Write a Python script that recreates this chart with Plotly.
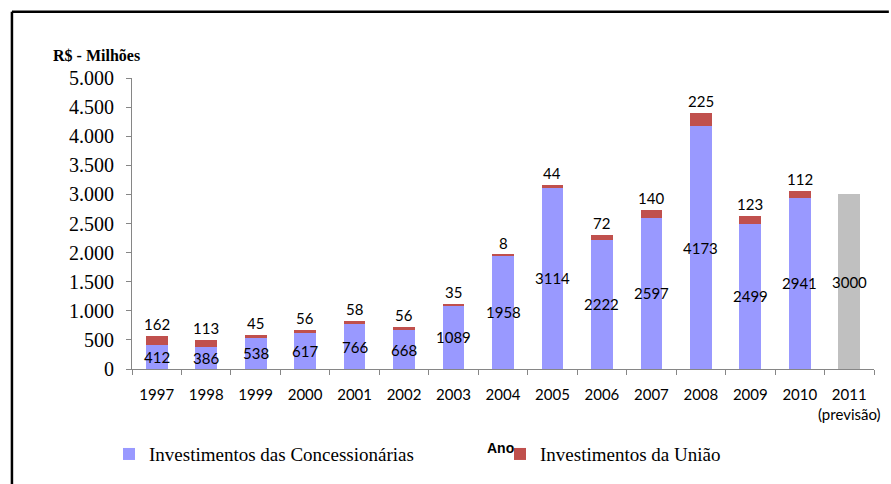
import plotly.graph_objects as go

anos = ["1997", "1998", "1999", "2000", "2001", "2002", "2003", "2004",
        "2005", "2006", "2007", "2008", "2009", "2010", "2011<br>(previsão)"]
concessionarias = [412, 386, 538, 617, 766, 668, 1089, 1958, 3114, 2222, 2597, 4173, 2499, 2941]
uniao = [162, 113, 45, 56, 58, 56, 35, 8, 44, 72, 140, 225, 123, 112]
previsao_2011 = [3000]
y_ticks = [0, 500, 1000, 1500, 2000, 2500, 3000, 3500, 4000, 4500, 5000]
y_tick_text = ["0", "500", "1.000", "1.500", "2.000", "2.500", "3.000", "3.500", "4.000", "4.500", "5.000"]

BLUE = "#9999FF"
RED = "#C0504D"
GRAY = "#C0C0C0"
AXIS = "#868686"
LABEL_FONT = dict(family="Lato", size=15, color="#000000")

fig = go.Figure()
fig.add_trace(go.Bar(x=anos[:-1], y=concessionarias, name="Investimentos das Concessionárias",
                     marker=dict(color=BLUE, line=dict(width=0))))
fig.add_trace(go.Bar(x=anos[:-1], y=uniao, name="Investimentos da União",
                     marker=dict(color=RED, line=dict(width=0))))
fig.add_trace(go.Bar(x=anos[-1:], y=previsao_2011, name="Previsão", showlegend=False,
                     marker=dict(color=GRAY, line=dict(width=0))))

annotations = []
for i, (c, u) in enumerate(zip(concessionarias, uniao)):
    annotations.append(dict(x=i, y=c / 2, text=str(c), showarrow=False, font=LABEL_FONT,
                            xref="x", yref="y"))
    annotations.append(dict(x=i, y=c + u, text=str(u), showarrow=False, font=LABEL_FONT,
                            xref="x", yref="y", yshift=12))
for j, v in enumerate(previsao_2011):
    annotations.append(dict(x=len(concessionarias) + j, y=v / 2, text=str(v), showarrow=False,
                            font=LABEL_FONT, xref="x", yref="y"))

annotations.append(dict(x=-0.1096, y=1.078, xref="paper", yref="paper", xanchor="left",
                        yanchor="middle", text="<b>R$ - Milhões</b>", showarrow=False,
                        font=dict(family="Liberation Serif", size=16, color="#000000")))
annotations.append(dict(x=0.4973, y=-0.272, xref="paper", yref="paper", xanchor="center",
                        yanchor="middle", text="<b>Ano</b>", showarrow=False,
                        font=dict(family="Liberation Sans", size=14, color="#000000")))

shapes = [
    dict(type="line", xref="paper", yref="paper", x0=-0.1618, x1=-0.1618, y0=1.2279, y1=-0.5,
         line=dict(color="#000000", width=2.5)),
    dict(type="line", xref="paper", yref="paper", x0=-0.1618, x1=1.02, y0=1.2279, y1=1.2279,
         line=dict(color="#000000", width=2.5)),
]

fig.update_layout(
    barmode="stack",
    bargap=0.56,
    width=891, height=484,
    margin=dict(l=132, r=11, t=78, b=112),
    paper_bgcolor="white", plot_bgcolor="white",
    showlegend=True,
    legend=dict(orientation="h", x=-0.012, y=-0.2925, xanchor="left", yanchor="middle",
                traceorder="normal",
                font=dict(family="Liberation Serif", size=19, color="#000000"),
                entrywidth=346, entrywidthmode="pixels", bgcolor="rgba(0,0,0,0)"),
    annotations=annotations,
    shapes=shapes,
    xaxis=dict(type="category", range=[-0.5, len(anos) - 0.5], showgrid=False, showline=True,
               linecolor=AXIS, linewidth=1,
               ticks="outside", tickson="boundaries", ticklen=5, tickcolor=AXIS,
               tickfont=dict(family="Lato", size=15, color="#000000"), ticklabelstandoff=12,
               tickangle=0, fixedrange=True),
    yaxis=dict(range=[0, 5000], tickvals=y_ticks, ticktext=y_tick_text, showgrid=False,
               showline=True, linecolor=AXIS, linewidth=1, ticks="outside", ticklen=5,
               tickcolor=AXIS, zeroline=False,
               tickfont=dict(family="Liberation Serif", size=20, color="#000000"),
               ticklabelstandoff=8, fixedrange=True),
)

fig.write_html("out.html", config={"displayModeBar": False},
               post_script="document.body.style.margin='0';")
